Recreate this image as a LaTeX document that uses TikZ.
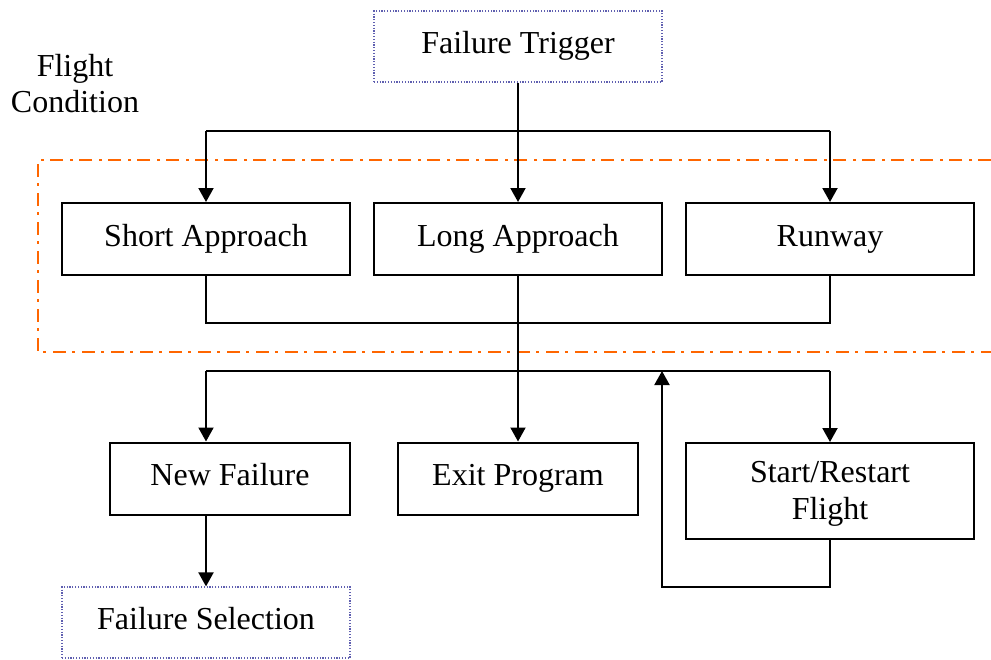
\documentclass[tikz,border=0pt]{standalone}
\usepackage{fontspec}
\setmainfont{Liberation Serif}
\usetikzlibrary{arrows.meta}
\definecolor{frameorange}{HTML}{FF6600}
\definecolor{dotblue}{HTML}{5F5FB0}
\begin{document}
\begin{tikzpicture}[x=1pt,y=-1pt,
  font=\fontsize{32}{37}\selectfont,
  boxtext/.style={text height=22pt,text depth=8pt,inner sep=0pt},
  stepbox/.style={boxtext,draw=black,line width=2pt,
    minimum width=288pt,minimum height=72pt},
  smallbox/.style={stepbox,minimum width=240pt},
  extbox/.style={boxtext,draw=dotblue,line width=1.2pt,dash pattern=on 1.2pt off 1.6pt,
    minimum width=288pt,minimum height=71pt},
  link/.style={line width=2pt},
  arrow/.style={link,-{Triangle[width=15pt,length=14pt]}},
  group/.style={draw=frameorange,line width=2.2pt,
    dash pattern=on 13pt off 6pt on 3pt off 7pt}]
\useasboundingbox (0,0) rectangle (991,659);

% group frame for the flight conditions, open on the right
\draw[group] (991,160) -- (38,160) -- (38,352) -- (991,352);
\node[align=center,font=\fontsize{32}{36}\selectfont] (fc) at (75,84) {Flight\\Condition};

% nodes
\node[extbox] (trigger) at (518,46.5) {Failure Trigger};
\node[stepbox] (short) at (206,239) {Short Approach};
\node[stepbox] (long) at (518,239) {Long Approach};
\node[stepbox] (runway) at (830,239) {Runway};
\node[smallbox] (newf) at (230,478.5) {New Failure};
\node[smallbox] (exitp) at (518,478.5) {Exit Program};
\node[draw=black,line width=2pt,minimum width=288pt,minimum height=96pt] (restart) at (830,491) {};
\node[align=center,inner sep=0pt] (restarttext) at (830,494) {Start/Restart\\Flight};
\node[extbox] (select) at (206,622.5) {Failure Selection};

% junction points
\coordinate (splitA) at (518,131);
\coordinate (splitAl) at (206,131);
\coordinate (splitAr) at (830,131);
\coordinate (joinB) at (518,323);
\coordinate (joinBl) at (206,323);
\coordinate (joinBr) at (830,323);
\coordinate (splitC) at (518,371);
\coordinate (splitCl) at (206,371);
\coordinate (splitCr) at (830,371);
\coordinate (loopR) at (830,587);
\coordinate (loopL) at (662,587);
\coordinate (loopEnd) at (662,371);

% trigger fans out to the three conditions
\draw[link] (trigger.south) -- (splitA);
\draw[link] (splitAl) -- (splitAr);
\draw[arrow] (splitAl) -- (short.north);
\draw[arrow] (splitA) -- (long.north);
\draw[arrow] (splitAr) -- (runway.north);

% conditions merge
\draw[link] (short.south) -- (joinBl) -- (joinBr) -- (runway.south);
\draw[arrow] (long.south) -- (exitp.north);

% choices after the condition
\draw[link] (splitCl) -- (splitCr);
\draw[arrow] (splitCl) -- (splitCl |- newf.north);
\draw[arrow] (splitCr) -- (restart.north);
\draw[arrow] (restart.south) -- (loopR) -- (loopL) -- (loopEnd);
\draw[arrow] (splitCl |- newf.south) -- (select.north);
\end{tikzpicture}
\end{document}
